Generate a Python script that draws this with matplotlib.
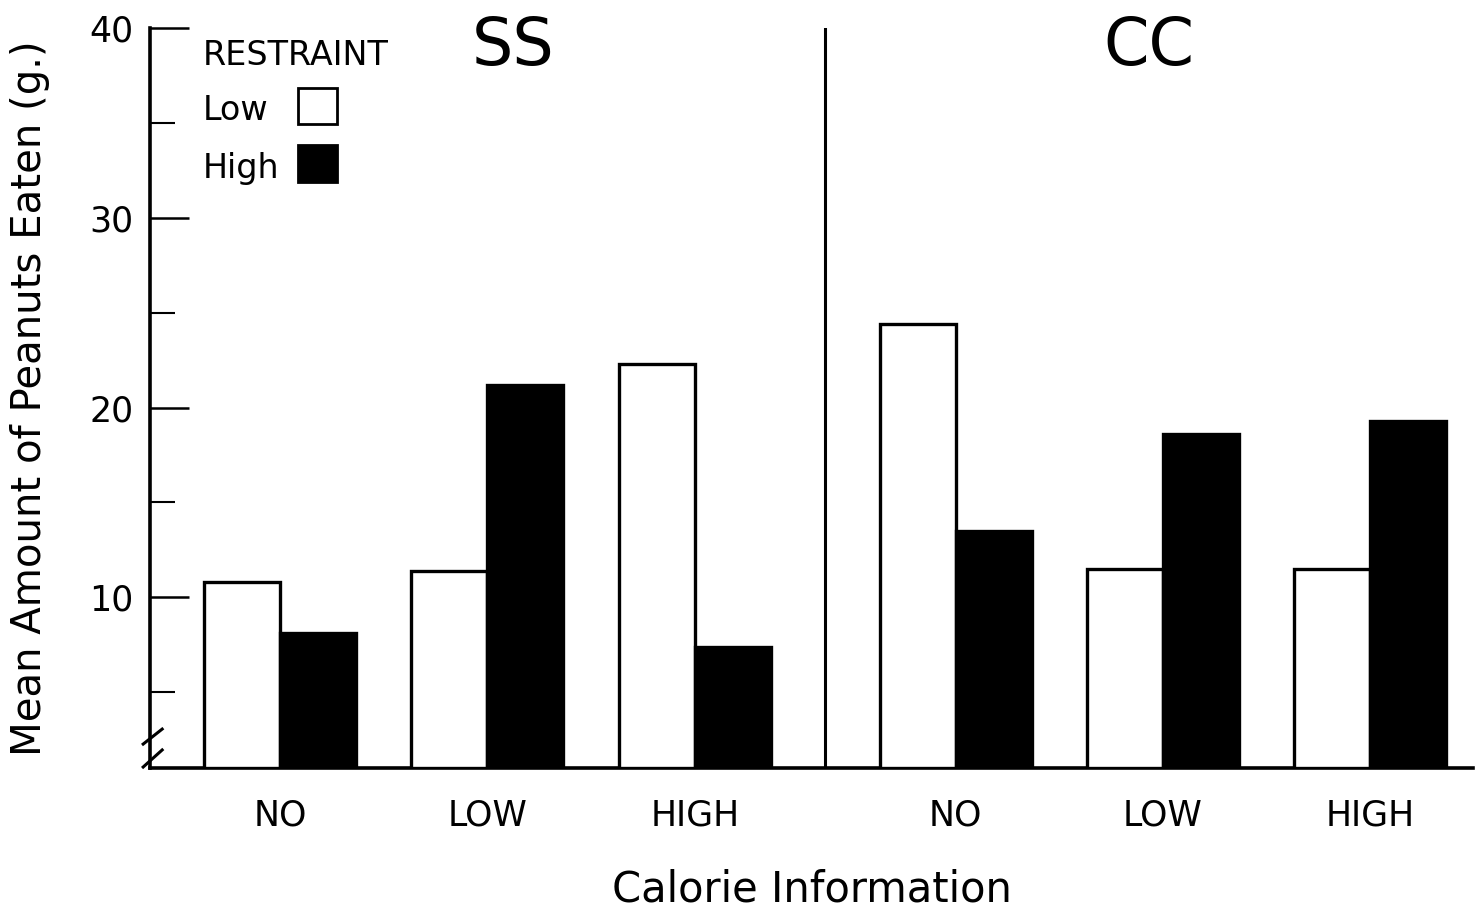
import numpy as np
import matplotlib.pyplot as plt
from matplotlib.patches import Rectangle

plt.rcParams['font.family'] = ['DejaVu Sans']

# data
conditions = ["NO", "LOW", "HIGH"]
panels = ["SS", "CC"]
ss_low = [10.8, 11.4, 22.3]
ss_high = [8.1, 21.2, 7.4]
cc_low = [24.4, 11.5, 11.5]
cc_high = [13.5, 18.6, 19.3]

fig = plt.figure(figsize=(14.75, 9.11), dpi=100)
ax = fig.add_axes([0.1017, 0.157, 0.897, 0.812])

w = 1.0
step = 2.73
starts = [1.71, 10.6]  # centre of first group of each panel
lw = 2.4

ticks, labels = [], []
for p, (lo, hi) in enumerate([(ss_low, ss_high), (cc_low, cc_high)]):
    x = starts[p] + step * np.arange(len(conditions))
    ax.bar(x - w / 2, np.array(lo) - 1, w, bottom=1, color="white",
           edgecolor="black", linewidth=lw, zorder=3)
    ax.bar(x + w / 2, np.array(hi) - 1, w, bottom=1, color="black",
           edgecolor="black", linewidth=lw, zorder=3)
    ticks += list(x)
    labels += conditions

# panel divider and titles
ax.axvline(8.88, ymin=0, ymax=1, color="black", lw=2.2)
ax.text(4.78, 39.0, panels[0], fontsize=47, ha="center", va="center")
ax.text(13.15, 39.0, panels[1], fontsize=47, ha="center", va="center")

ax.set_xlim(0, 17.41)
ax.set_ylim(1, 40)
for s in ["top", "right"]:
    ax.spines[s].set_visible(False)
ax.spines["left"].set_linewidth(2.6)
ax.spines["bottom"].set_linewidth(2.6)

ax.set_yticks([10, 20, 30, 40])
ax.set_yticks([5, 15, 25, 35], minor=True)
ax.tick_params(axis="y", which="major", direction="in", length=28, width=1.8,
               labelsize=25, pad=12)
ax.tick_params(axis="y", which="minor", direction="in", length=18, width=1.5)
ax.set_xticks(ticks)
ax.set_xticklabels(labels, fontsize=25)
ax.tick_params(axis="x", length=0, pad=22)

ax.set_ylabel("Mean Amount of Peanuts Eaten (g.)", fontsize=29, labelpad=28)
ax.set_xlabel("Calorie Information", fontsize=30, labelpad=26)

# axis break mark
for y0, y1 in [(1.05, 1.95), (2.26, 3.05)]:
    ax.plot([-0.09, 0.16], [y0, y1], color="black", lw=2.2,
            clip_on=False, zorder=5)

# legend
ax.text(0.04, 0.9635, "RESTRAINT", transform=ax.transAxes, fontsize=24,
        va="center", ha="left")
ax.text(0.04, 0.889, "Low", transform=ax.transAxes, fontsize=24,
        va="center", ha="left")
ax.text(0.04, 0.811, "High", transform=ax.transAxes, fontsize=24,
        va="center", ha="left")
ax.add_patch(Rectangle((0.112, 0.870), 0.029, 0.0486, transform=ax.transAxes,
                       facecolor="white", edgecolor="black", lw=2))
ax.add_patch(Rectangle((0.112, 0.792), 0.029, 0.05, transform=ax.transAxes,
                       facecolor="black", edgecolor="black", lw=2))

plt.savefig("out.png", dpi=100)
